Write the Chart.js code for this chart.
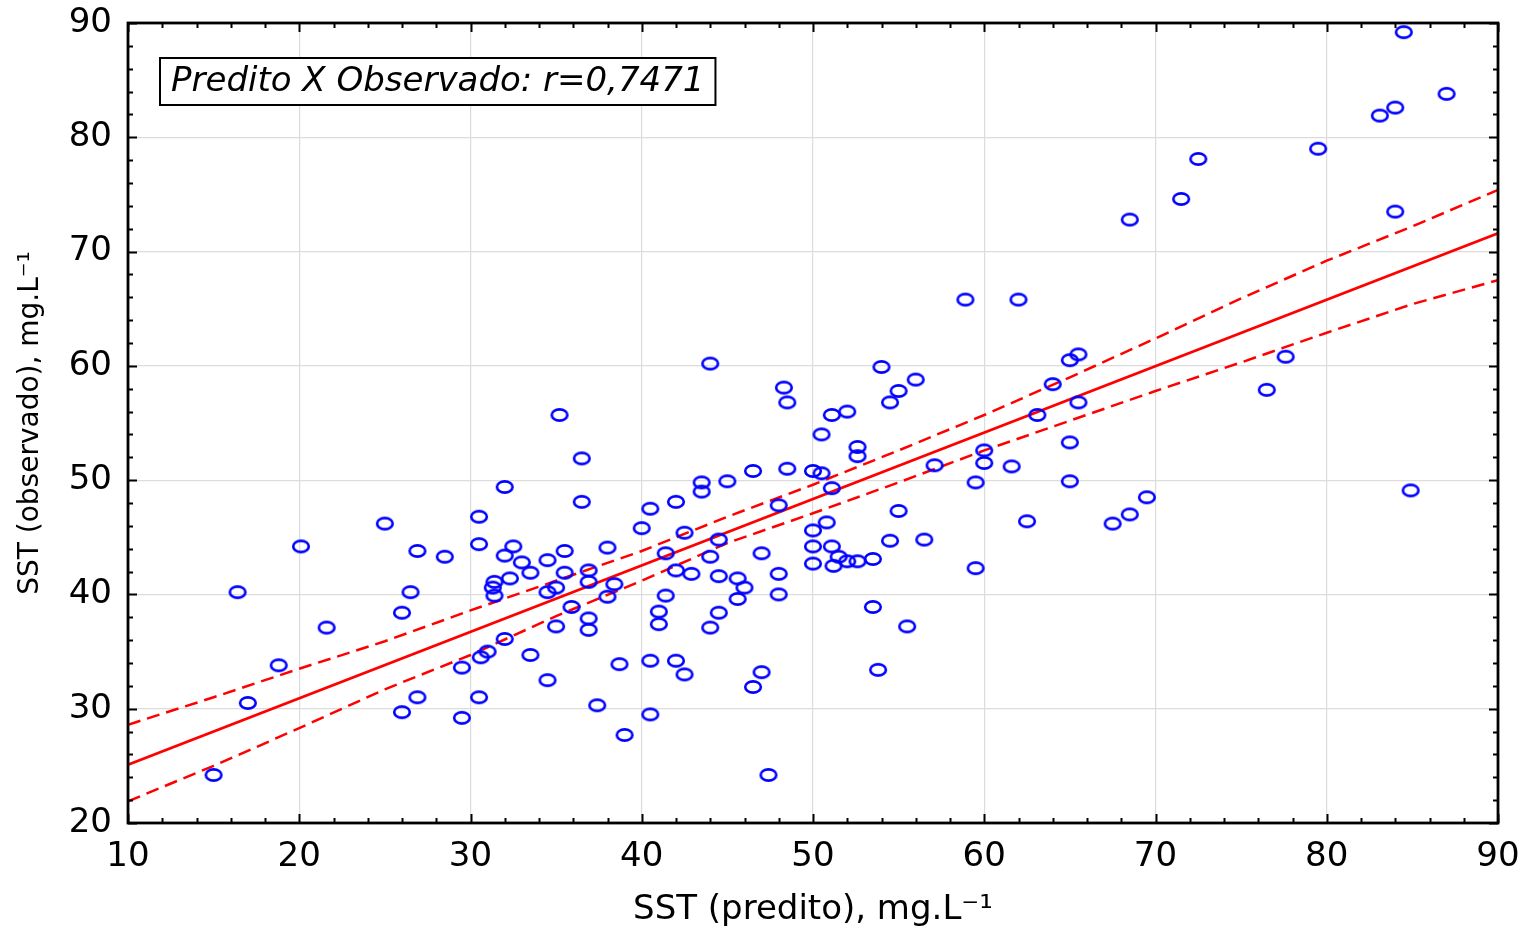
<!DOCTYPE html>
<html>
<head>
<meta charset="utf-8">
<title>Predito X Observado</title>
<script src="https://cdn.jsdelivr.net/npm/chart.js@4/dist/chart.umd.min.js"></script>
<style>
    html, body { margin: 0; padding: 0; background: #fff; }
    canvas { display: block; }
</style>
</head>
<body>
<canvas id="scatterChart" width="1524" height="929"></canvas>
<script>
const predX = [
    15.0, 16.4, 17.0, 18.8, 20.1, 21.6, 25.0, 26.0, 26.0, 26.5,
    26.9, 26.9, 28.5, 29.5, 29.5, 30.5, 30.5, 30.5, 30.6, 31.0,
    31.4, 31.3, 31.4, 32.0, 32.0, 32.0, 32.3, 32.5, 33.0, 33.5,
    33.5, 34.5, 34.5, 34.5, 35.0, 35.0, 35.2, 35.5, 35.5, 35.9,
    36.5, 36.5, 36.9, 36.9, 36.9, 36.9, 37.4, 38.0, 38.0, 38.4,
    38.7, 39.0, 40.0, 40.5, 40.5, 40.5, 41.0, 41.0, 41.4, 41.4,
    42.0, 42.0, 42.0, 42.5, 42.5, 42.9, 43.5, 43.5, 44.0, 44.0,
    44.0, 44.5, 44.5, 44.5, 45.0, 45.6, 45.6, 46.0, 46.5, 46.5,
    47.0, 47.0, 47.4, 48.0, 48.0, 48.0, 48.3, 48.5, 48.5, 50.0,
    50.0, 50.0, 50.0, 50.5, 50.5, 50.8, 51.1, 51.1, 51.1, 51.2,
    51.5, 52.0, 52.0, 52.6, 52.6, 52.6, 53.5, 53.5, 53.8, 54.0,
    54.5, 54.5, 55.0, 55.0, 55.5, 56.0, 56.5, 57.1, 58.9, 59.5,
    59.5, 60.0, 60.0, 61.6, 62.0, 62.5, 63.1, 64.0, 65.0, 65.0,
    65.0, 65.5, 65.5, 67.5, 68.5, 68.5, 69.5, 71.5, 72.5, 76.5,
    77.6, 79.5, 83.1, 84.0, 84.0, 84.5, 84.9, 87.0
];
const obsY = [
    24.2, 40.2, 30.5, 33.8, 44.2, 37.1, 46.2, 38.4, 29.7, 40.2,
    43.8, 31.0, 43.3, 33.6, 29.2, 46.8, 44.4, 31.0, 34.5, 35.0,
    41.1, 40.6, 39.9, 49.4, 43.4, 36.1, 41.4, 44.2, 42.8, 41.9,
    34.7, 43.0, 40.2, 32.5, 40.6, 37.2, 55.7, 43.8, 41.9, 38.9,
    51.9, 48.1, 42.1, 41.1, 37.9, 36.9, 30.3, 44.1, 39.8, 40.9,
    33.9, 27.7, 45.8, 47.5, 34.2, 29.5, 38.5, 37.4, 43.6, 39.9,
    48.1, 42.1, 34.2, 45.4, 33.0, 41.8, 49.8, 49.0, 60.2, 43.3,
    37.1, 44.8, 41.6, 38.4, 49.9, 41.4, 39.6, 40.6, 50.8, 31.9,
    43.6, 33.2, 24.2, 47.8, 41.8, 40.0, 58.1, 56.8, 51.0, 50.8,
    45.6, 44.2, 42.7, 54.0, 50.6, 46.3, 55.7, 49.3, 44.2, 42.5,
    43.3, 56.0, 42.9, 52.9, 52.1, 42.9, 43.1, 38.9, 33.4, 59.9,
    56.8, 44.7, 57.8, 47.3, 37.2, 58.8, 44.8, 51.3, 65.8, 49.8,
    42.3, 52.6, 51.5, 51.2, 65.8, 46.4, 55.7, 58.4, 60.5, 53.3,
    49.9, 61.0, 56.8, 46.2, 72.8, 47.0, 48.5, 74.6, 78.1, 57.9,
    60.8, 79.0, 81.9, 82.6, 73.5, 89.2, 49.1, 83.8
];

// fitted line ends and 95% band
const fitX = [10, 90];
const fitY = [25.1, 71.6];
const bandX = [10, 15, 20, 25, 30, 35, 40, 45, 50, 55, 60, 65, 70, 75, 80, 85, 90];
const bandUpper = [28.6, 31.0, 33.5, 35.9, 38.6, 41.2, 43.8, 46.8, 49.6, 52.6, 55.7, 59.0, 62.4, 65.9, 69.2, 72.2, 75.4];
const bandLower = [21.9, 25.0, 28.3, 31.7, 34.7, 38.1, 41.2, 44.5, 47.1, 49.8, 52.6, 55.2, 57.8, 60.3, 62.9, 65.4, 67.5];

const xTicks = [10, 20, 30, 40, 50, 60, 70, 80, 90];
const yTicks = [20, 30, 40, 50, 60, 70, 80, 90];

const xTitle = 'SST (predito), mg.L\u207B\u00B9';
const yTitle = 'SST (observado), mg.L\u207B\u00B9';
const boxLabel = 'Predito X Observado: r=0,7471';

const FONT = "'DejaVu Sans', 'Liberation Sans', Arial, sans-serif";

function toPoints(xs, ys) {
    return xs.map((x, i) => ({ x: x, y: ys[i] }));
}

// open ellipse marker like the original (wider than tall)
function makeMarker() {
    const c = document.createElement('canvas');
    c.width = 24;
    c.height = 18;
    const g = c.getContext('2d');
    g.strokeStyle = '#0000ff';
    g.lineWidth = 2.6;
    g.beginPath();
    g.ellipse(12, 9, 7.8, 5.6, 0, 0, Math.PI * 2);
    g.stroke();
    return c;
}

// frame with inward ticks on all four sides + the r label box
const framePlugin = {
    id: 'framePlugin',
    afterDraw(chart) {
        const { ctx, chartArea: a, scales } = chart;
        const x = scales.x, y = scales.y;
        ctx.save();
        ctx.strokeStyle = '#000';
        ctx.lineWidth = 2;
        ctx.beginPath();
        for (let v = x.min; v <= x.max + 0.001; v += 2) {
            const px = Math.round(x.getPixelForValue(v)) + 0.5;
            const len = v % 10 === 0 ? 9 : 5;
            ctx.moveTo(px, a.bottom); ctx.lineTo(px, a.bottom - len);
            ctx.moveTo(px, a.top); ctx.lineTo(px, a.top + len);
        }
        for (let v = y.min; v <= y.max + 0.001; v += 2) {
            const py = Math.round(y.getPixelForValue(v)) + 0.5;
            const len = v % 10 === 0 ? 9 : 5;
            ctx.moveTo(a.left, py); ctx.lineTo(a.left + len, py);
            ctx.moveTo(a.right, py); ctx.lineTo(a.right - len, py);
        }
        ctx.stroke();

        ctx.lineWidth = 2.8;
        ctx.strokeRect(a.left, a.top, a.right - a.left, a.bottom - a.top);

        // label box
        ctx.font = "oblique 34px " + FONT;
        const tw = ctx.measureText(boxLabel).width;
        const bx = a.left + 32, by = a.top + 35;
        const bw = tw + 22, bh = 47;
        ctx.fillStyle = '#fff';
        ctx.fillRect(bx, by, bw, bh);
        ctx.lineWidth = 2;
        ctx.strokeRect(bx, by, bw, bh);
        ctx.fillStyle = '#000';
        ctx.textBaseline = 'middle';
        ctx.fillText(boxLabel, bx + 11, by + bh / 2 + 1);
        ctx.restore();
    }
};

const ctx = document.getElementById('scatterChart').getContext('2d');
const chart = new Chart(ctx, {
    type: 'scatter',
    data: {
        datasets: [
            {
                label: 'Observado',
                data: toPoints(predX, obsY),
                pointStyle: makeMarker(),
                pointRadius: 9,
                showLine: false
            },
            {
                label: 'Ajuste',
                data: toPoints(fitX, fitY),
                showLine: true,
                borderColor: '#ff0000',
                borderWidth: 2.5,
                pointRadius: 0,
                tension: 0
            },
            {
                label: 'IC superior',
                data: toPoints(bandX, bandUpper),
                showLine: true,
                borderColor: '#ff0000',
                borderWidth: 2.5,
                borderDash: [13, 7],
                pointRadius: 0,
                tension: 0
            },
            {
                label: 'IC inferior',
                data: toPoints(bandX, bandLower),
                showLine: true,
                borderColor: '#ff0000',
                borderWidth: 2.5,
                borderDash: [13, 7],
                pointRadius: 0,
                tension: 0
            }
        ]
    },
    options: {
        responsive: false,
        animation: false,
        devicePixelRatio: 1,
        layout: { padding: { top: 23, right: 26, left: 0, bottom: 0 } },
        plugins: {
            legend: { display: false },
            tooltip: { enabled: false }
        },
        scales: {
            x: {
                type: 'linear',
                min: 10,
                max: 90,
                afterBuildTicks: (s) => { s.ticks = xTicks.map(v => ({ value: v })); },
                afterFit: (s) => { s.height = 106; s.paddingLeft = 0; s.paddingRight = 0; },
                grid: { color: '#dcdcdc', lineWidth: 1.2, drawTicks: false },
                border: { display: false },
                ticks: { color: '#000', padding: 14, font: { family: FONT, size: 34 } },
                title: {
                    display: true,
                    text: xTitle,
                    color: '#000',
                    font: { family: FONT, size: 34, lineHeight: 1.1 },
                    padding: { top: 0, bottom: 0 }
                }
            },
            y: {
                type: 'linear',
                min: 20,
                max: 90,
                afterBuildTicks: (s) => { s.ticks = yTicks.map(v => ({ value: v })); },
                afterFit: (s) => { s.width = 128; s.paddingTop = 0; s.paddingBottom = 0; },
                grid: { color: '#dcdcdc', lineWidth: 1.2, drawTicks: false },
                border: { display: false },
                ticks: { color: '#000', padding: 16, font: { family: FONT, size: 34 } },
                title: {
                    display: true,
                    text: yTitle,
                    color: '#000',
                    font: { family: FONT, size: 28, lineHeight: 1.2 },
                    padding: { top: 14, bottom: 0 }
                }
            }
        }
    },
    plugins: [framePlugin]
});
</script>
</body>
</html>
